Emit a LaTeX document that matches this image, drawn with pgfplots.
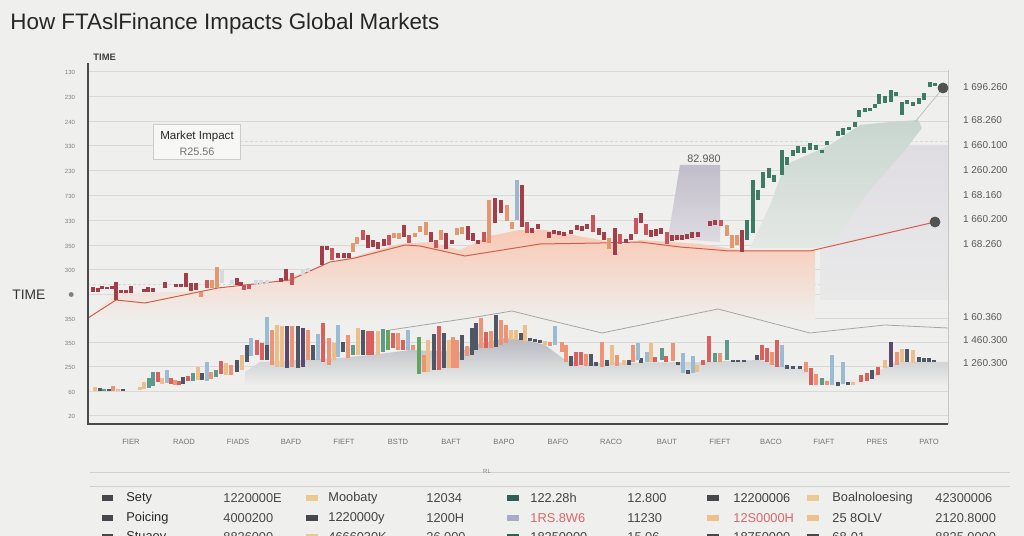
\documentclass[border=0pt]{standalone}
\usepackage{fontspec}
\setmainfont{Liberation Sans}
\usepackage{pgfplots}
\usepackage{pgfplotstable}
\pgfplotsset{compat=1.18}
\usetikzlibrary{backgrounds}

\definecolor{bgc}{HTML}{EFEFED}
\definecolor{gridc}{HTML}{D9D9D9}
\definecolor{axc}{HTML}{4A4A4C}
\definecolor{titc}{HTML}{262626}
\definecolor{crim}{HTML}{A33D4A}
\definecolor{redc}{HTML}{C9545A}
\definecolor{orng}{HTML}{E3976F}
\definecolor{lite}{HTML}{D6D9E1}
\definecolor{lav}{HTML}{CBC7D5}
\definecolor{grn}{HTML}{3E7B66}
\definecolor{lblue}{HTML}{9CB7CC}
\definecolor{lred}{HTML}{D9605C}
\definecolor{lsal}{HTML}{EC9475}
\definecolor{ltan}{HTML}{EDBE8C}
\definecolor{ldark}{HTML}{4F5766}
\definecolor{lpur}{HTML}{5B4A6E}
\definecolor{lteal}{HTML}{5E9A8C}
\definecolor{lblu}{HTML}{9BBBD3}
\definecolor{lgrn}{HTML}{63A463}
\definecolor{swdark}{HTML}{48484C}
\definecolor{swtan}{HTML}{ECC98F}
\definecolor{swteal}{HTML}{2F5F55}
\definecolor{swlav}{HTML}{A9AAC6}
\definecolor{swpeach}{HTML}{F0C08A}
\definecolor{redtxt}{HTML}{D9666A}

% ---------- upper candles (x, top px, bottom px) ----------
\pgfplotstableread{
x t b
93 287 292
98 288 292
102 286 289
107 287 289
112 286 289
116 282 300
121 290 293
126 290 293
131 286 293
144 289 292
148 287 292
153 288 292
165 282 288
176 284 287
181 284 287
186 273 287
191 283 291
196 283 290
237 278 285
241 282 286
281 278 282
286 269 280
322 246 265
327 246 250
338 253 258
344 253 258
349 253 258
368 235 248
373 240 247
378 242 249
384 239 246
404 225 237
431 232 242
446 233 249
452 240 244
468 226 240
473 233 241
478 240 244
495 198 223
501 200 213
522 185 227
532 228 233
538 224 229
549 232 238
554 230 234
559 231 235
564 232 236
571 230 234
577 225 230
582 226 231
587 224 229
599 228 235
604 232 240
615 228 255
626 239 243
631 234 240
641 213 223
651 230 237
656 229 236
661 228 234
672 235 241
677 235 240
682 235 240
687 234 239
692 232 238
698 232 237
710 221 226
715 220 225
742 230 252
}\UCrim
\pgfplotstableread{
x t b
207 280 288
244 285 290
249 284 289
292 273 285
332 248 260
363 230 240
389 235 245
409 235 243
436 240 248
484 232 242
527 222 233
593 215 232
620 234 244
636 218 234
646 224 235
667 232 244
721 220 226
}\URed
\pgfplotstableread{
x t b
201 292 297
212 280 288
217 267 288
353 243 252
357 237 244
394 233 238
399 233 239
415 233 237
420 226 232
426 222 235
441 230 240
457 228 235
462 227 234
489 200 243
507 205 221
512 222 229
609 238 249
727 225 236
732 235 248
737 235 245
}\UOrg
\pgfplotstableread{
x t b
222 270 283
232 280 284
256 280 284
261 280 284
267 280 284
303 270 275
308 268 272
}\ULite
\pgfplotstableread{
x t b
517 180 220
}\ULblue
\pgfplotstableread{
x t b
747 220 240
753 180 233
758 190 200
763 172 188
769 168 178
774 175 182
782 150 175
787 157 165
793 150 156
798 146 153
804 147 153
810 143 150
816 145 150
822 150 153
827 141 145
838 131 136
843 128 135
849 127 130
855 122 127
859 110 117
865 108 112
870 108 111
875 104 108
879 94 104
885 96 103
891 90 102
896 92 96
902 102 115
907 100 104
913 102 106
919 98 104
924 93 100
930 82 87
935 83 86
}\UGrn

% ---------- lower bars (x, top px, bottom px) ----------
\pgfplotstableread{
x t b
158 372 382
171 378 384
179 381 385
188 376 381
221 361 374
257 340 355
262 343 360
323 323 362
368 331 355
372 331 355
393 333 348
403 340 350
439 326 370
486 332 348
576 352 366
581 352 365
655 357 362
666 356 362
703 360 365
709 336 362
762 345 360
767 348 362
777 340 367
811 368 385
861 375 382
867 373 381
878 367 375
}\LRed
\pgfplotstableread{
x t b
113 386 391
175 380 385
211 372 379
231 365 375
272 330 365
292 326 367
308 330 360
329 338 365
348 335 358
398 333 350
413 345 350
424 355 372
453 337 368
457 340 368
467 346 356
481 318 348
491 331 348
501 320 345
506 325 343
550 342 346
562 342 352
566 345 362
586 354 366
602 342 367
617 355 366
633 345 362
673 343 361
720 353 362
772 352 365
806 362 372
816 374 385
827 381 385
897 352 365
}\LSal
\pgfplotstableread{
x t b
95 387 391
118 389 391
140 387 390
144 382 389
162 378 384
198 367 380
226 363 375
242 355 370
277 325 367
282 326 367
334 343 360
358 328 355
378 331 355
428 340 372
449 340 368
511 330 340
516 330 340
525 325 342
545 341 345
612 345 365
624 360 365
651 343 362
697 365 372
853 382 385
885 360 368
902 349 362
913 350 363
}\LTan
\pgfplotstableread{
x t b
100 388 391
109 389 391
123 389 391
183 377 384
202 373 380
237 360 372
247 345 362
267 345 360
298 326 368
313 345 360
343 342 352
363 330 355
434 334 370
444 333 368
462 335 360
472 328 355
476 323 350
496 315 347
521 333 340
530 338 341
535 339 342
540 340 343
571 356 366
591 354 366
596 362 366
607 360 366
629 360 365
641 358 363
678 362 365
688 370 374
733 360 362
738 360 362
744 360 362
757 355 360
787 365 369
793 366 369
800 366 369
838 382 386
848 382 385
872 370 379
907 349 362
919 357 362
924 358 362
929 358 362
934 360 362
}\LDark
\pgfplotstableread{
x t b
287 326 368
303 328 367
891 342 367
}\LPur
\pgfplotstableread{
x t b
104 389 391
149 378 388
153 372 386
193 373 381
216 370 377
353 345 355
383 329 352
662 348 360
715 353 362
727 340 360
822 378 385
}\LTeal
\pgfplotstableread{
x t b
167 370 383
207 362 381
251 338 356
267 317 345
318 334 360
338 325 357
408 330 350
555 326 345
638 343 360
647 352 362
683 353 373
693 356 373
782 345 367
832 355 385
843 362 384
}\LLblu
\pgfplotstableread{
x t b
388 330 350
419 337 374
}\LGrn

% ---------- areas and lines (x, px y) ----------
\pgfplotstableread{
x y
88 318
116 293
140 293
200 291
230 288
270 284
300 274
320 266
350 258
370 252
400 244
430 242
460 250
490 236
520 230
545 230
600 240
620 245
640 240
700 244
740 250
815 250
815 322
88 322
}\APeach
\pgfplotstableread{
x y
680 165
720 165
720 242
668 238
}\ALav
\pgfplotstableread{
x y
830 248
870 185
905 145
948 145
948 300
820 300
820 250
}\ALavR
\pgfplotstableread{
x y
750 248
770 205
785 165
830 145
860 125
890 122
918 120
922 128
905 150
870 190
830 248
}\AGrn
\pgfplotstableread{
x y
245 372
260 362
300 360
340 358
380 354
410 350
460 352
475 345
505 338
525 340
545 345
565 360
580 363
700 362
760 360
785 367
805 369
820 380
860 380
885 368
895 362
948 362
948 386
245 386
}\AGray
\pgfplotstableread{
x y
88 318
116 300
145 303
218 288
290 280
330 262
355 258
405 245
420 246
465 256
540 244
600 243
640 242
680 247
730 251
810 251
935 222
}\LineRed
\pgfplotstableread{
x y
390 330
470 318
512 311
540 318
602 333
718 309
810 333
885 325
948 328
}\LineGray
\pgfplotstableread{
x y
943 88
915 122
}\LineThin
\pgfplotstableread{
x y
943 88
935 222
}\Dots

\pgfplotsset{
  base/.style={x=0.5pt,y=0.5pt,xmin=88,xmax=948,ymin=112,ymax=473},
  cdl/.style={quiver={u=0,v=\thisrow{b}-\thisrow{t}},line width=#1},
}

\begin{document}
\begin{tikzpicture}
\begin{axis}[base, clip=false,
  axis line style={draw=none},
  major tick length=0pt,
  ytick={464,439,414,390,365,340,315,290,266,241,217,193,169,144,120},
  yticklabels={130,230,240,330,230,730,330,350,300,$\bullet$,350,350,250,60,20},
  ymajorgrids, grid style={gridc, line width=0.5pt},
  yticklabel style={font=\fontsize{3}{3}\selectfont, text=black!50, xshift=-3pt},
  xtick={131,184,238,291,344,398,451,504,558,611,667,720,771,824,877,929},
  xticklabels={FIER,RAOD,FIADS,BAFD,FIEFT,BSTD,BAFT,BAPO,BAFO,RACO,BAUT,FIEFT,BACO,FIAFT,PRES,PATO},
  xticklabel style={font=\fontsize{3.8}{4}\selectfont, text=black!55, yshift=-4pt},
]
\coordinate (BL) at (axis cs:0,0);
\coordinate (TR) at (axis cs:1024,536);

% extra dashed guides
\draw[gridc, line width=0.5pt, dash pattern=on 1.5pt off 1pt] (axis cs:240,394) -- (axis cs:948,394);
\draw[gridc, line width=0.5pt, dash pattern=on 1.5pt off 1pt] (axis cs:88,251) -- (axis cs:948,251);

% areas
\addplot[draw=none, top color=lav!45!bgc, bottom color=bgc!85!lav] table[x=x, y expr=536-\thisrow{y}] {\ALavR} -- cycle;
\addplot[draw=none, top color=orange!25!pink!60!bgc, bottom color=bgc] table[x=x, y expr=536-\thisrow{y}] {\APeach} -- cycle;
\addplot[draw=none, top color=lav!95!black, bottom color=lav!50!bgc] table[x=x, y expr=536-\thisrow{y}] {\ALav} -- cycle;
\addplot[draw=none, top color=grn!22!bgc, bottom color=grn!6!bgc] table[x=x, y expr=536-\thisrow{y}] {\AGrn} -- cycle;
\addplot[draw=none, top color=black!15!lite, bottom color=bgc] table[x=x, y expr=536-\thisrow{y}] {\AGray} -- cycle;

% lines
\addplot[color=redc!80!orange, line width=0.5pt] table[x=x, y expr=536-\thisrow{y}] {\LineRed};
\addplot[color=black!35, line width=0.4pt] table[x=x, y expr=536-\thisrow{y}] {\LineGray};
\addplot[color=black!25, line width=0.4pt] table[x=x, y expr=536-\thisrow{y}] {\LineThin};

% upper candles
\addplot[crim, cdl=2.2pt] table[x=x, y expr=536-\thisrow{b}] {\UCrim};
\addplot[redc, cdl=2.2pt] table[x=x, y expr=536-\thisrow{b}] {\URed};
\addplot[orng, cdl=2.2pt] table[x=x, y expr=536-\thisrow{b}] {\UOrg};
\addplot[lite, cdl=2.2pt] table[x=x, y expr=536-\thisrow{b}] {\ULite};
\addplot[lblue, cdl=2.2pt] table[x=x, y expr=536-\thisrow{b}] {\ULblue};
\addplot[grn, cdl=2.2pt] table[x=x, y expr=536-\thisrow{b}] {\UGrn};

% lower bars
\addplot[lred, cdl=2pt] table[x=x, y expr=536-\thisrow{b}] {\LRed};
\addplot[lsal, cdl=2pt] table[x=x, y expr=536-\thisrow{b}] {\LSal};
\addplot[ltan, cdl=2pt] table[x=x, y expr=536-\thisrow{b}] {\LTan};
\addplot[ldark, cdl=2pt] table[x=x, y expr=536-\thisrow{b}] {\LDark};
\addplot[lpur, cdl=2pt] table[x=x, y expr=536-\thisrow{b}] {\LPur};
\addplot[lteal, cdl=2pt] table[x=x, y expr=536-\thisrow{b}] {\LTeal};
\addplot[lblu, cdl=2pt] table[x=x, y expr=536-\thisrow{b}] {\LLblu};
\addplot[lgrn, cdl=2pt] table[x=x, y expr=536-\thisrow{b}] {\LGrn};

% dots
\addplot[only marks, mark=*, mark size=2.5pt, color=black!68] table[x=x, y expr=536-\thisrow{y}] {\Dots};

% axis frame
\draw[axc, line width=1.3pt] (axis cs:88,473) -- (axis cs:88,112);
\draw[axc, line width=1.4pt] (axis cs:87,112) -- (axis cs:948,112);
\draw[black!22, line width=0.5pt] (axis cs:948,466) -- (axis cs:948,112);
\end{axis}

\begin{axis}[base,
  axis line style={draw=none},
  major tick length=0pt,
  xtick=\empty,
  ytick={449,416,391,366,341,317,292,219,196,173},
  yticklabels={1 696.260,1 68.260,1 660.100,1 260.200,1 68.160,1 660.200,1 68.260,1 60.360,1 460.300,1 260.300},
  yticklabel pos=right,
  yticklabel style={font=\fontsize{5}{5}\selectfont, text=black!65, anchor=west, xshift=4pt},
]
\end{axis}

% texts and bottom table, in a frame of 1 px = 0.5 pt from the lower left corner
\begin{scope}[shift={(BL)}, x=0.5pt, y=0.5pt]
\node[anchor=west, inner sep=0, font=\fontsize{11.2}{13}\selectfont, text=titc] at (10,512.5) {How FTAslFinance Impacts Global Markets};
\node[anchor=west, inner sep=0, font=\fontsize{4.7}{5}\selectfont\bfseries, text=black!75] at (93,479) {TIME};
\node[anchor=west, inner sep=0, font=\fontsize{6.9}{8}\selectfont, text=black!80] at (12,241) {TIME};

\draw[black!20, line width=0.5pt, fill=bgc!50!white] (153,411) rectangle (240,376);
\node[inner sep=0, font=\fontsize{5.8}{6}\selectfont, text=titc] at (197,399) {Market Impact};
\node[inner sep=0, font=\fontsize{5.4}{6}\selectfont, text=black!55] at (197,384) {R25.56};
\node[inner sep=0, font=\fontsize{5.4}{6}\selectfont, text=black!65] at (704,377) {82.980};

\draw[black!18, line width=0.5pt] (90,64) -- (1010,64);
\draw[black!18, line width=0.5pt] (90,50) -- (1010,50);
\node[inner sep=0, font=\fontsize{3}{3}\selectfont, text=black!50] at (487,65) {RL};

\foreach \yy/\sa/\la/\na/\sb/\lb/\nb/\sc/\lc/\tc/\nc/\sd/\ld/\td/\se/\le/\ne in {
  38/swdark/Sety/1220000E/swtan/Moobaty/12034/swteal/122.28h/black!75/12.800/swdark/12200006/black!75/swtan/Boalnoloesing/42300006,
  18/swdark/Poicing/4000200/swdark/1220000y/1200H/swlav/1RS.8W6/redtxt/11230/swpeach/12S0000H/redtxt/swpeach/25 8OLV/2120.8000,
  -1/swdark/Stuaey/8826000/swtan/4666030K/26.000/swteal/18250000/black!75/15.06/swdark/18750000/black!75/swdark/68-01/8825.0000}{
  \node[anchor=west, inner sep=0] at (102,\yy) {\textcolor{\sa}{\rule{5.5pt}{3.2pt}}};
  \node[anchor=west, inner sep=0, font=\fontsize{6.4}{7}\selectfont, text=black!85] at (126,\yy) {\la};
  \node[anchor=west, inner sep=0, font=\fontsize{6.4}{7}\selectfont, text=black!72] at (223,\yy) {\na};
  \node[anchor=west, inner sep=0] at (306,\yy) {\textcolor{\sb}{\rule{6pt}{3.2pt}}};
  \node[anchor=west, inner sep=0, font=\fontsize{6.4}{7}\selectfont, text=black!75] at (328,\yy) {\lb};
  \node[anchor=west, inner sep=0, font=\fontsize{6.4}{7}\selectfont, text=black!72] at (426,\yy) {\nb};
  \node[anchor=west, inner sep=0] at (507,\yy) {\textcolor{\sc}{\rule{6pt}{3.2pt}}};
  \node[anchor=west, inner sep=0, font=\fontsize{6.4}{7}\selectfont, text=\tc] at (530,\yy) {\lc};
  \node[anchor=west, inner sep=0, font=\fontsize{6.4}{7}\selectfont, text=black!72] at (627,\yy) {\nc};
  \node[anchor=west, inner sep=0] at (707,\yy) {\textcolor{\sd}{\rule{6pt}{3.2pt}}};
  \node[anchor=west, inner sep=0, font=\fontsize{6.4}{7}\selectfont, text=\td] at (733,\yy) {\ld};
  \node[anchor=west, inner sep=0] at (807,\yy) {\textcolor{\se}{\rule{6pt}{3.2pt}}};
  \node[anchor=west, inner sep=0, font=\fontsize{6.4}{7}\selectfont, text=black!75] at (832,\yy) {\le};
  \node[anchor=west, inner sep=0, font=\fontsize{6.4}{7}\selectfont, text=black!72] at (935,\yy) {\ne};
}
\end{scope}

\begin{scope}[on background layer]
\fill[bgc] (BL) rectangle (TR);
\end{scope}
\pgfresetboundingbox
\useasboundingbox (BL) rectangle (TR);
\end{tikzpicture}
\end{document}
